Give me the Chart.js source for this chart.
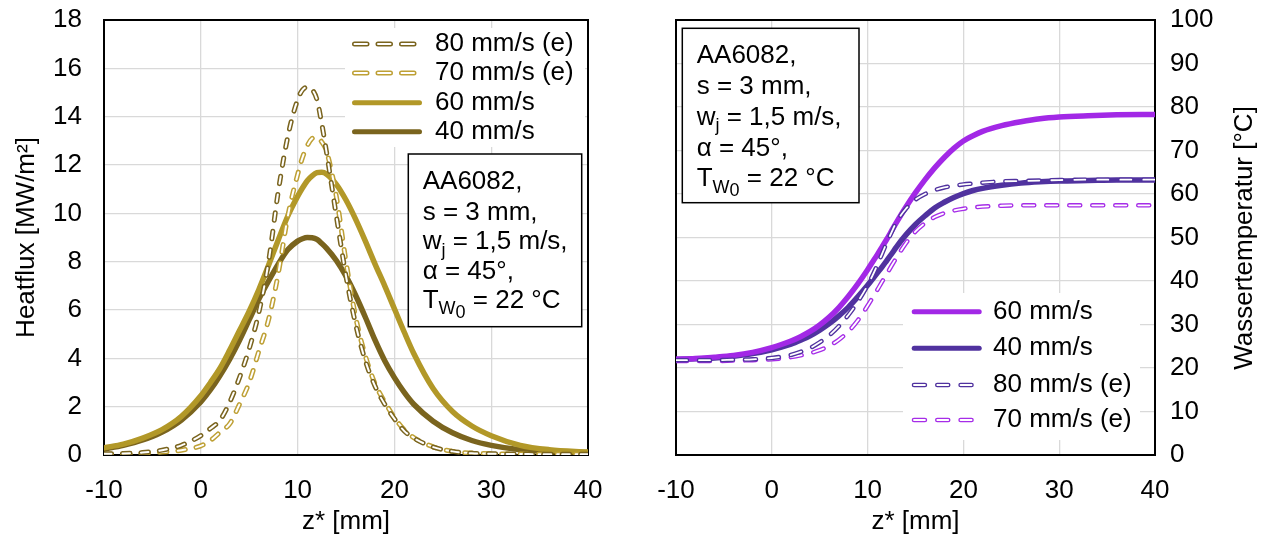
<!DOCTYPE html>
<html><head><meta charset="utf-8">
<script src="https://cdn.jsdelivr.net/npm/chart.js@4.4.1/dist/chart.umd.min.js"></script>
<style>
html,body{margin:0;padding:0;background:#fff;}
#wrap{position:relative;width:1270px;height:539px;overflow:hidden;background:#fff;}
.c{position:absolute;top:0;width:635px;height:539px;}
</style></head><body>
<div id="wrap">
<div class="c" style="left:0"><canvas id="left" width="635" height="539"></canvas></div>
<div class="c" style="left:635px"><canvas id="right" width="635" height="539"></canvas></div>
</div>
<script>
// ---------- data ----------
const zValues = [-10,-8,-6,-4,-2,0,1,2,3,4,5,6,7,8,9,10,10.5,11,11.5,12,12.5,13,14,15,16,17,18,19,20,21,22,24,26,28,30,33,36,40];

// Heatflux [MW/m²]
const heat60 = [0.30,0.45,0.70,1.05,1.60,2.45,3.00,3.60,4.35,5.15,5.95,6.85,7.85,8.90,9.90,10.70,11.05,11.35,11.55,11.68,11.70,11.62,11.20,10.55,9.75,8.85,7.90,7.00,6.05,5.10,4.20,2.75,1.80,1.20,0.80,0.40,0.22,0.12];
const heat40 = [0.25,0.40,0.62,0.95,1.45,2.20,2.70,3.30,3.98,4.75,5.60,6.45,7.20,7.90,8.50,8.85,8.95,9.00,8.99,8.92,8.75,8.55,8.05,7.40,6.60,5.70,4.75,3.90,3.20,2.60,2.10,1.40,0.92,0.60,0.40,0.22,0.15,0.10];
const heat80e = [0.05,0.06,0.10,0.20,0.40,0.80,1.10,1.45,2.20,3.20,4.40,5.90,8.00,10.90,13.20,14.70,15.10,15.22,15.12,14.70,13.70,12.50,9.90,7.40,5.40,3.90,2.85,2.10,1.50,1.00,0.70,0.33,0.15,0.07,0.05,0.04,0.03,0.03];
const heat70e = [0.02,0.04,0.07,0.12,0.20,0.38,0.60,0.95,1.30,2.10,3.00,4.30,5.60,7.50,9.90,11.60,12.30,12.80,13.10,13.15,12.95,12.55,10.70,8.00,5.70,4.10,2.95,2.20,1.55,1.05,0.72,0.34,0.15,0.08,0.05,0.04,0.03,0.03];

// Wassertemperatur [°C]
const temp60 = [22.0,22.2,22.5,22.9,23.6,24.7,25.4,26.2,27.2,28.4,29.9,31.7,33.9,36.5,39.4,42.6,44.3,46.0,47.8,49.6,51.5,53.4,57.0,60.3,63.3,66.0,68.4,70.5,72.2,73.4,74.4,75.7,76.6,77.3,77.7,78.0,78.2,78.3];
const temp40 = [22.0,22.1,22.3,22.7,23.3,24.2,24.8,25.5,26.4,27.4,28.7,30.2,32.0,34.0,36.4,39.0,40.4,41.8,43.2,44.7,46.2,47.8,50.6,53.0,55.0,56.8,58.1,59.2,60.1,60.8,61.3,62.0,62.5,62.8,63.0,63.1,63.2,63.2];
const temp80e = [21.8,21.8,21.8,21.9,22.0,22.3,22.6,23.0,23.7,24.6,25.9,27.5,29.6,32.2,35.3,39.0,41.2,43.6,46.2,48.8,51.2,53.5,56.6,58.7,60.0,60.9,61.5,61.9,62.2,62.4,62.6,62.9,63.0,63.1,63.2,63.3,63.3,63.3];
const temp70e = [21.6,21.6,21.6,21.7,21.8,22.0,22.2,22.5,22.9,23.4,24.1,25.1,26.5,28.4,31.0,34.3,36.1,37.9,39.8,41.6,43.5,45.3,48.7,51.4,53.3,54.7,55.6,56.2,56.6,56.9,57.1,57.3,57.4,57.4,57.4,57.4,57.4,57.4];

const seriesNames = {s80e:'80 mm/s (e)', s70e:'70 mm/s (e)', s60:'60 mm/s', s40:'40 mm/s'};
const leftLegendOrder = ['80 mm/s (e)','70 mm/s (e)','60 mm/s','40 mm/s'];
const rightLegendOrder = ['60 mm/s','40 mm/s','80 mm/s (e)','70 mm/s (e)'];

const xTitle = 'z* [mm]';
const leftYTitle = 'Heatflux [MW/m²]';
const rightYTitle = 'Wassertemperatur [°C]';

// note text lines as runs (s:1 subscript, s:2 second-level subscript)
const noteLines = [
  [{t:'AA6082,'}],
  [{t:'s = 3 mm,'}],
  [{t:'w'},{t:'j',s:1},{t:' = 1,5 m/s,'}],
  [{t:'α = 45°,'}],
  [{t:'T'},{t:'W',s:1},{t:'0',s:2},{t:' = 22 °C'}]
];

// ---------- helpers ----------
const FONT = '"Liberation Sans", Arial, Helvetica, sans-serif';
Chart.defaults.font.family = FONT;
Chart.defaults.font.size = 26;
Chart.defaults.color = '#000';

function pts(vals){ return zValues.map((z,i)=>({x:z, y:vals[i]})); }

function solid(label, vals, color, width, legendWidth, order){
  return {label, data: pts(vals), borderColor: color, backgroundColor: color, borderWidth: width,
    pointRadius:0, pointHoverRadius:0, fill:false, cubicInterpolationMode:'monotone',
    borderCapStyle:'round', borderJoinStyle:'round', order,
    legendSample:{type:'solid', color, width: legendWidth}};
}
function hollow(label, vals, color, outer, inner, dash, legendDash, order){
  const common = {data: pts(vals), pointRadius:0, pointHoverRadius:0, fill:false,
    cubicInterpolationMode:'monotone', borderCapStyle:'round', borderJoinStyle:'round', borderDash: dash};
  return [
    Object.assign({label, borderColor: color, borderWidth: outer, order,
      legendSample:{type:'hollow', color, outer, inner, dash: legendDash}}, common),
    Object.assign({label: label + ' ', isInner:true, borderColor:'#ffffff', borderWidth: inner, order: order - 0.5}, common)
  ];
}

function drawLegend(chart, L){
  const ctx = chart.ctx;
  ctx.save();
  ctx.fillStyle = '#fff';
  ctx.fillRect(L.bg[0], L.bg[1], L.bg[2], L.bg[3]);
  L.order.forEach((name, i) => {
    const ds = chart.data.datasets.find(d => d.label === name && !d.isInner);
    if (!ds) return;
    const s = ds.legendSample, y = L.rows[i];
    ctx.lineCap = 'round';
    if (s.type === 'solid') {
      ctx.setLineDash([]);
      ctx.strokeStyle = s.color; ctx.lineWidth = s.width;
      ctx.beginPath(); ctx.moveTo(L.x1 + s.width/2, y); ctx.lineTo(L.x2 - s.width/2, y); ctx.stroke();
    } else {
      ctx.setLineDash(s.dash);
      ctx.strokeStyle = s.color; ctx.lineWidth = s.outer;
      ctx.beginPath(); ctx.moveTo(L.x1 + s.outer/2, y); ctx.lineTo(L.x2 - s.outer/2, y); ctx.stroke();
      ctx.strokeStyle = '#fff'; ctx.lineWidth = s.inner;
      ctx.beginPath(); ctx.moveTo(L.x1 + s.outer/2, y); ctx.lineTo(L.x2 - s.outer/2, y); ctx.stroke();
    }
    ctx.setLineDash([]);
    ctx.fillStyle = '#000';
    ctx.font = '26px ' + FONT;
    ctx.textAlign = 'left';
    ctx.textBaseline = 'middle';
    ctx.fillText(name, L.tx, y);
  });
  ctx.restore();
}

function drawNote(ctx, n){
  ctx.save();
  ctx.fillStyle = '#fff';
  ctx.fillRect(n.box[0], n.box[1], n.box[2], n.box[3]);
  ctx.strokeStyle = '#000'; ctx.lineWidth = 1.5;
  ctx.strokeRect(n.box[0], n.box[1], n.box[2], n.box[3]);
  ctx.fillStyle = '#000';
  ctx.textAlign = 'left';
  ctx.textBaseline = 'alphabetic';
  noteLines.forEach((runs, i) => {
    let x = n.x;
    const base = n.rows[i] + 9.3;
    runs.forEach(r => {
      const size = r.s ? 18 : 26;
      ctx.font = size + 'px ' + FONT;
      const dy = r.s === 1 ? 6.5 : (r.s === 2 ? 10 : 0);
      ctx.fillText(r.t, x, base + dy);
      x += ctx.measureText(r.t).width;
    });
  });
  ctx.restore();
}

const decor = {
  id: 'decor',
  beforeDatasetsDraw(chart, args, o){
    const ctx = chart.ctx, a = chart.chartArea;
    ctx.save();
    ctx.strokeStyle = '#000'; ctx.lineWidth = 2;
    ctx.strokeRect(a.left, a.top, a.right - a.left, a.bottom - a.top);
    ctx.restore();
  },
  afterDraw(chart, args, o){
    const ctx = chart.ctx;
    if (o.legend) drawLegend(chart, o.legend);
    if (o.note) drawNote(ctx, o.note);
    if (o.sideTitle) {
      ctx.save();
      ctx.translate(o.sideTitle.x, o.sideTitle.y);
      ctx.rotate(-Math.PI/2);
      ctx.font = '26px ' + FONT;
      ctx.fillStyle = '#000';
      ctx.textAlign = 'center';
      ctx.textBaseline = 'middle';
      ctx.fillText(o.sideTitle.text, 0, 0);
      ctx.restore();
    }
  }
};

const GRID = '#d9d9d9';

function xScale(){
  return {type:'linear', min:-10, max:40,
    ticks:{stepSize:10, padding:20, maxRotation:0, autoSkip:false},
    grid:{color:GRID, lineWidth:1.3, drawTicks:false},
    border:{display:false},
    title:{display:true, text:xTitle, padding:{top:0, bottom:2}},
    afterFit(s){ s.height = 84; s.paddingLeft = 0; s.paddingRight = 0; }};
}
function yFit(w){ return function(s){ s.width = w; s.paddingTop = 0; s.paddingBottom = 0; }; }

// ---------- left chart ----------
const gold = '#B29828', olive = '#7A641E', gold2 = '#BEA035';
const leftDatasets = [].concat(
  hollow(seriesNames.s80e, heat80e, olive, 5, 2, [7.5, 11], [12.5, 11], 2),
  hollow(seriesNames.s70e, heat70e, gold2, 5, 2, [7.5, 11], [12.5, 11], 4),
  [solid(seriesNames.s60, heat60, gold, 5.5, 5, 6),
   solid(seriesNames.s40, heat40, olive, 5.5, 5, 7)]
);

new Chart(document.getElementById('left'), {
  type:'line',
  data:{datasets: leftDatasets},
  plugins:[decor],
  options:{
    responsive:false, animation:false, devicePixelRatio:1,
    layout:{padding:{top:20, right:47, left:0, bottom:0}},
    scales:{
      x: xScale(),
      y: {type:'linear', min:0, max:18,
        ticks:{stepSize:2, padding:22},
        grid:{color:GRID, lineWidth:1.3, drawTicks:false},
        border:{display:false},
        title:{display:true, text:leftYTitle, padding:{top:11, bottom:0}},
        afterFit: yFit(104)}
    },
    plugins:{
      legend:{display:false}, tooltip:{enabled:false},
      decor:{
        legend:{bg:[345,28,240,119], rows:[44,73,102.7,131.7], x1:352, x2:422, tx:435, order:leftLegendOrder},
        note:{box:[408.3,154,173.4,172.7], x:422.7, rows:[180,210.5,240,269.5,298.5]}
      }
    }
  }
});

// ---------- right chart ----------
const violet = '#A228E6', indigo = '#50329F', violet2 = '#A62DE8';
const rightDatasets = [].concat(
  hollow(seriesNames.s80e, temp80e, indigo, 4.5, 1.8, [11, 12], [11, 12.3], 2),
  hollow(seriesNames.s70e, temp70e, violet2, 4.5, 1.8, [11, 12], [11, 12.3], 4),
  [solid(seriesNames.s60, temp60, violet, 5.5, 5, 6),
   solid(seriesNames.s40, temp40, indigo, 5.5, 5, 7)]
);

new Chart(document.getElementById('right'), {
  type:'line',
  data:{datasets: rightDatasets},
  plugins:[decor],
  options:{
    responsive:false, animation:false, devicePixelRatio:1,
    layout:{padding:{top:20, right:0, left:41, bottom:0}},
    scales:{
      x: xScale(),
      y: {type:'linear', position:'right', min:0, max:100,
        ticks:{stepSize:10, padding:15},
        grid:{color:GRID, lineWidth:1.3, drawTicks:false},
        border:{display:false},
        title:{display:false},
        afterFit: yFit(115)}
    },
    plugins:{
      legend:{display:false}, tooltip:{enabled:false},
      decor:{
        legend:{bg:[268,293,237,147], rows:[311.7,348.3,385,420], x1:276.7, x2:346.7, tx:358, order:rightLegendOrder},
        note:{box:[47.3,28.3,176.7,174.4], x:61.7, rows:[53.5,84.5,115.5,146.5,177]},
        sideTitle:{x:610, y:238, text:rightYTitle}
      }
    }
  }
});
</script>
</body></html>
